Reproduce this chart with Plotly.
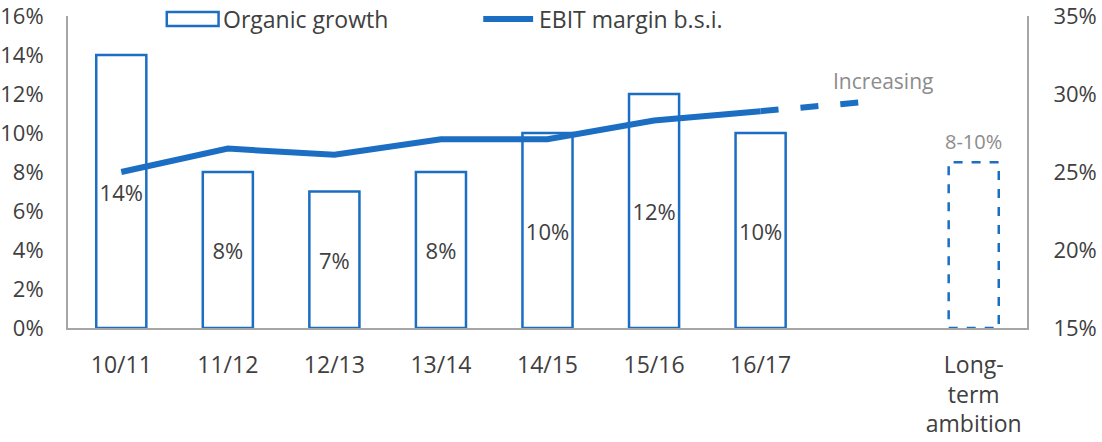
import plotly.graph_objects as go

categories = ["10/11", "11/12", "12/13", "13/14", "14/15", "15/16", "16/17", " ", "Long-<br>term<br>ambition"]
growth_cats = ["10/11", "11/12", "12/13", "13/14", "14/15", "15/16", "16/17"]
organic_growth = [14, 8, 7, 8, 10, 12, 10]
ebit_margin = [25.0, 26.5, 26.1, 27.1, 27.1, 28.3, 28.9]
proj_cats = ["16/17", " "]
proj_margin = [28.9, 29.5]
target_cat_index = 8
target_growth = 8.5
target_label = "8-10%"
proj_label = "Increasing"
left_ticks = [0, 2, 4, 6, 8, 10, 12, 14, 16]
right_ticks = [15, 20, 25, 30, 35]

BLUE = "#1B6EC2"
GRAY = "#A6A6A6"
TXT = "#404040"
LGRAY = "#8C8C8C"
FONT = "Open Sans"
BW = 0.47

fig = go.Figure()
fig.add_trace(go.Bar(
    x=growth_cats, y=organic_growth, width=BW,
    marker=dict(color="white", line=dict(color=BLUE, width=2.5)),
    text=[f"{v}%" for v in organic_growth], textposition="inside",
    insidetextanchor="middle", textangle=0, constraintext="none",
    textfont=dict(color=TXT, size=22, family=FONT),
    showlegend=False, yaxis="y", cliponaxis=False,
))
fig.add_trace(go.Scatter(
    x=growth_cats, y=ebit_margin, mode="lines",
    line=dict(color=BLUE, width=6), yaxis="y2", showlegend=False,
))
fig.add_trace(go.Scatter(
    x=proj_cats, y=proj_margin, mode="lines",
    line=dict(color=BLUE, width=6, dash="18px,22px"), yaxis="y2", showlegend=False,
))

# dashed target bar
fig.add_shape(type="rect", xref="x", yref="y",
              x0=target_cat_index - BW / 2, x1=target_cat_index + BW / 2,
              y0=0, y1=target_growth,
              line=dict(color=BLUE, width=2.5, dash="dash"), fillcolor="rgba(0,0,0,0)")

fig.add_annotation(x=target_cat_index, y=target_growth, xref="x", yref="y",
                   text=target_label, showarrow=False, yanchor="bottom", yshift=5,
                   font=dict(color=LGRAY, size=20, family=FONT))
fig.add_annotation(x=7, y=proj_margin[-1], xref="x", yref="y2",
                   text=proj_label, showarrow=False, yanchor="bottom", yshift=5, xshift=16,
                   font=dict(color=LGRAY, size=21, family=FONT))

# manual legend
fig.add_shape(type="rect", xref="paper", yref="paper", x0=0.103, x1=0.157, y0=0.968, y1=1.013,
              line=dict(color=BLUE, width=2.5), fillcolor="white")
fig.add_annotation(x=0.160, y=0.990, xref="paper", yref="paper", text="Organic growth",
                   showarrow=False, xanchor="left", yanchor="middle",
                   font=dict(color=TXT, size=23, family=FONT))
fig.add_shape(type="line", xref="paper", yref="paper", x0=0.433, x1=0.485, y0=0.990, y1=0.990,
              line=dict(color=BLUE, width=6))
fig.add_annotation(x=0.489, y=0.990, xref="paper", yref="paper", text="EBIT margin b.s.i.",
                   showarrow=False, xanchor="left", yanchor="middle",
                   font=dict(color=TXT, size=23, family=FONT))

fig.update_layout(
    width=1102, height=442,
    margin=dict(l=68, r=75, t=16, b=114),
    plot_bgcolor="white", paper_bgcolor="white",
    font=dict(family=FONT, size=22, color=TXT),
    bargap=0.53,
    xaxis=dict(type="category", categoryorder="array", categoryarray=categories,
               range=[-0.5, 8.5], showline=True, linecolor=GRAY, linewidth=2,
               showgrid=False, ticks="", ticklabelstandoff=15, automargin=False,
               tickfont=dict(size=23, color=TXT, family=FONT)),
    yaxis=dict(range=[0, 16], tickvals=left_ticks, ticktext=[f"{v}%" for v in left_ticks],
               showline=True, linecolor=GRAY, linewidth=2, showgrid=False, zeroline=False,
               ticks="", ticklabelstandoff=18, automargin=False, ticklabeloverflow="allow",
               tickfont=dict(size=22, color=TXT, family=FONT)),
    yaxis2=dict(range=[15, 35], tickvals=right_ticks, ticktext=[f"{v}%" for v in right_ticks],
                overlaying="y", side="right", showline=True, linecolor=GRAY, linewidth=2,
                showgrid=False, zeroline=False, ticks="", ticklabelstandoff=20, automargin=False,
                ticklabeloverflow="allow",
                tickfont=dict(size=22, color=TXT, family=FONT)),
)

fig.write_html("out.html", config={"displayModeBar": False},
               post_script="document.body.style.margin='0';")
